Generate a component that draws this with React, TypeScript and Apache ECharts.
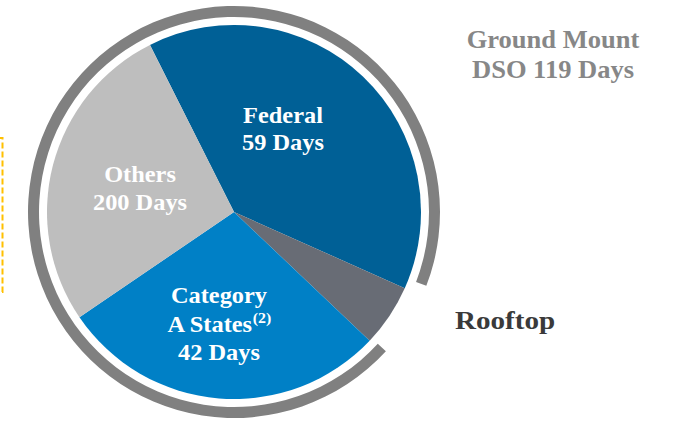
import React, { useEffect, useRef } from "react";
import * as echarts from "echarts";

// Slice data (share of portfolio)
const categories = ["Federal", "Rooftop", "Category A States", "Others"];
const shares = [39.1, 5.4, 28.4, 27.1];
const dsoDays = [59, null, 42, 200];
const sliceColors = ["#006096", "#686C75", "#0080C6", "#BEBEBE"];

// Ground Mount bracket ring: covered arc vs gap (degrees)
const ringNames = ["Ground Mount", "gap"];
const ringSpan = [338.5, 21.5];
const groundMountDSO = 119;

const FONT = "'Liberation Serif', 'Times New Roman', serif";

export default function App() {
  const ref = useRef<HTMLDivElement>(null);

  useEffect(() => {
    if (!ref.current) return;
    const chart = echarts.init(ref.current, null, { renderer: "svg" });

    const cx = 234;
    const cy = 212;

    const labelText = (lines: string[], x: number, y: number, lh: number) => ({
      type: "text",
      x,
      y,
      scaleX: 1.06,
      style: {
        text: lines.join("\n"),
        fill: "#ffffff",
        fontFamily: FONT,
        fontWeight: "bold",
        fontSize: 23,
        lineHeight: lh,
        textAlign: "center",
        textVerticalAlign: "middle",
      },
      z: 10,
    });

    const option: any = {
      animation: false,
      backgroundColor: "#ffffff",
      series: [
        {
          type: "pie",
          center: [cx, cy],
          radius: [0, 187],
          startAngle: 116.7,
          clockwise: true,
          silent: true,
          label: { show: false },
          labelLine: { show: false },
          emphasis: { disabled: true },
          itemStyle: { borderWidth: 0 },
          data: categories.map((name, i) => ({
            name,
            value: shares[i],
            itemStyle: { color: sliceColors[i] },
          })),
        },
        {
          type: "pie",
          center: [cx, cy],
          radius: [195, 206],
          startAngle: -42.5,
          clockwise: true,
          silent: true,
          label: { show: false },
          labelLine: { show: false },
          emphasis: { disabled: true },
          itemStyle: { borderWidth: 0 },
          data: ringNames.map((name, i) => ({
            name,
            value: ringSpan[i],
            itemStyle: { color: i === 0 ? "#808080" : "rgba(0,0,0,0)" },
          })),
        },
      ],
      graphic: [
        {
          type: "rect",
          shape: { x: -20, y: 138, width: 22.5, height: 154 },
          style: { fill: "none", stroke: "#FFC000", lineWidth: 2, lineDash: [6, 3] },
        },
        labelText([categories[0], `${dsoDays[0]} Days`], 283, 129, 27),
        labelText([categories[3], `${dsoDays[3]} Days`], 140, 188, 28.5),
        {
          type: "text",
          x: 219,
          y: 324,
          scaleX: 1.06,
          style: {
            text: `{n|Category}\n{n|A States}{s|(2)}\n{n|${dsoDays[2]} Days}`,
            textAlign: "center",
            textVerticalAlign: "middle",
            rich: {
              n: {
                fill: "#ffffff",
                fontFamily: FONT,
                fontWeight: "bold",
                fontSize: 23,
                lineHeight: 28.5,
              },
              s: {
                fill: "#ffffff",
                fontFamily: FONT,
                fontWeight: "bold",
                fontSize: 15,
                lineHeight: 20,
                verticalAlign: "top",
              },
            },
          },
          z: 10,
        },
        {
          type: "text",
          x: 553,
          y: 54.5,
          scaleX: 1.02,
          style: {
            text: `Ground Mount\nDSO ${groundMountDSO} Days`,
            fill: "#878787",
            fontFamily: FONT,
            fontWeight: "bold",
            fontSize: 26,
            lineHeight: 30,
            textAlign: "center",
            textVerticalAlign: "middle",
          },
        },
        {
          type: "text",
          x: 505,
          y: 320,
          scaleX: 1.12,
          style: {
            text: categories[1],
            fill: "#3A3A3A",
            fontFamily: FONT,
            fontWeight: "bold",
            fontSize: 26,
            textAlign: "center",
            textVerticalAlign: "middle",
          },
        },
      ],
    };

    chart.setOption(option);
    return () => chart.dispose();
  }, []);

  return (
    <div
      ref={ref}
      style={{ position: "fixed", left: 0, top: 0, width: 677, height: 422 }}
    />
  );
}
